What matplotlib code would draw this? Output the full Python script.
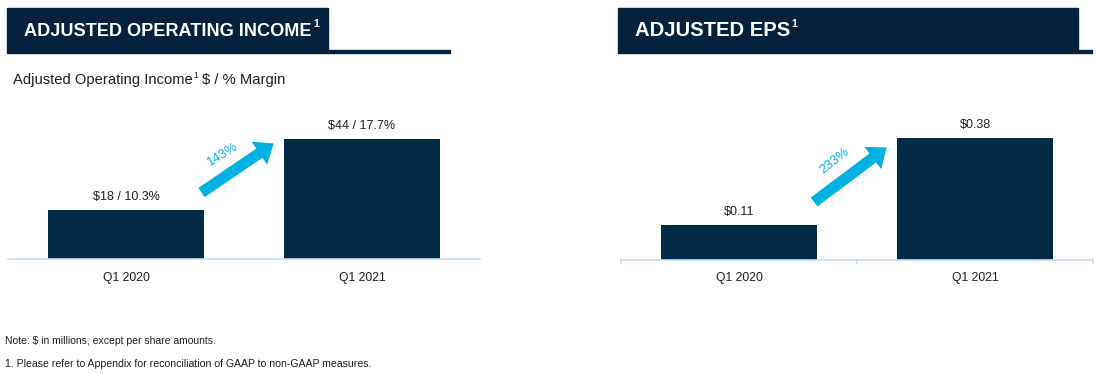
import matplotlib
matplotlib.use("Agg")
import matplotlib.pyplot as plt
from matplotlib.patches import FancyArrowPatch, Rectangle

periods = ["Q1 2020", "Q1 2021"]
op_income = [18, 44]
op_margin = [10.3, 17.7]
eps = [0.11, 0.38]
op_growth = "143%"
eps_growth = "233%"

NAVY = "#032b45"
HEAD = "#05223d"
CYAN = "#00b1e1"
AXIS = "#c9dcf3"
TXT = "#1f1f1f"

plt.rcParams["font.family"] = ["Liberation Sans", "DejaVu Sans"]

W, H = 1097, 373
fig = plt.figure(figsize=(W / 100, H / 100), dpi=100)
renderer = fig.canvas.get_renderer()


def px_axes(x0, x1, y_top, y_bot):
    return fig.add_axes([x0 / W, 1 - y_bot / H, (x1 - x0) / W, (y_bot - y_top) / H])


def fit_text(x, y, s, width_px, fs, **kw):
    # shrink the font so the string spans about width_px (original uses a narrow face)
    t = fig.text(x / W, 1 - y / H, s, fontsize=fs, **kw)
    w = t.get_window_extent(renderer).width
    t.set_fontsize(fs * width_px / w)
    return t


def header(x0, x1, x_line, text, width_px):
    fig.patches.append(Rectangle((x0 / W, 1 - 53 / H), (x1 - x0) / W, 45 / H,
                                 transform=fig.transFigure, color=HEAD, zorder=1))
    fig.patches.append(Rectangle((x1 / W, 1 - 53 / H), (x_line - x1) / W, 3.5 / H,
                                 transform=fig.transFigure, color=HEAD, zorder=1))
    t = fit_text(x0 + 17, 31, text, width_px, 16, color="white",
                 fontweight="bold", va="center", ha="left")
    bb = t.get_window_extent(renderer)
    fig.text(bb.x1 / W + 1.5 / W, 1 - 24 / H, "1", color="white", fontsize=7.5,
             fontweight="bold", va="center", ha="left")


header(7, 328, 450, "ADJUSTED OPERATING INCOME", 287)
header(618, 1078, 1092, "ADJUSTED EPS", 156)

t = fig.text(13 / W, 1 - 80 / H, "Adjusted Operating Income", fontsize=10.6,
             va="center", ha="left", color=TXT)
bb = t.get_window_extent(renderer)
fig.text(bb.x1 / W + 1 / W, 1 - 75 / H, "1", fontsize=6.2, va="center", ha="left", color=TXT)
fig.text(bb.x1 / W + 9 / W, 1 - 80 / H, "$ / % Margin", fontsize=10.6,
         va="center", ha="left", color=TXT)


def bar_panel(ax, vals, labels, top_frac, arrow, growth, rot, ticks_edge):
    x = range(len(vals))
    ax.bar(x, vals, width=0.665, color=NAVY, zorder=2)
    ax.set_xlim(-0.5, len(vals) - 0.5)
    ax.set_ylim(0, max(vals) * top_frac)
    for xi, v, lab in zip(x, vals, labels):
        ax.annotate(lab, (xi, v), xytext=(0, 5), textcoords="offset points",
                    ha="center", va="bottom", fontsize=9, color=TXT)
    for s in ["top", "right", "left"]:
        ax.spines[s].set_visible(False)
    ax.spines["bottom"].set_color(AXIS)
    ax.spines["bottom"].set_linewidth(1.2)
    ax.set_yticks([])
    ax.set_xticks(list(x))
    ax.set_xticklabels(periods, fontsize=8.7, color=TXT)
    ax.tick_params(axis="x", length=0, pad=9)
    if ticks_edge:
        for xe in [-0.5, 0.5, 1.5]:
            ax.plot([xe, xe], [0, -0.018], color=AXIS, lw=1.2, clip_on=False,
                    transform=ax.get_xaxis_transform())
    ax.add_patch(FancyArrowPatch(arrow[0], arrow[1], transform=ax.transAxes,
                                 arrowstyle="simple,head_width=2.0,head_length=1.25,tail_width=0.8",
                                 mutation_scale=10, color=CYAN, lw=0, zorder=3,
                                 shrinkA=0, shrinkB=0))
    ax.text(*growth[1], growth[0], rotation=rot, color=CYAN, fontsize=9.5,
            ha="center", va="center", transform=ax.transAxes)


ax1 = px_axes(8, 480, 100, 259)
bar_panel(ax1, op_income, [f"${v} / {m}%" for v, m in zip(op_income, op_margin)],
          1.325, ((0.41, 0.418), (0.563, 0.727)), (op_growth, (0.456, 0.66)), 32, False)

ax2 = px_axes(621, 1093, 100, 260)
bar_panel(ax2, eps, [f"${v:.2f}" for v in eps],
          1.314, ((0.409, 0.3625), (0.563, 0.703)), (eps_growth, (0.453, 0.62)), 39, True)

fig.text(5 / W, 1 - 341 / H, "Note: $ in millions, except per share amounts.",
         fontsize=7.5, va="center", ha="left", color=TXT)
fig.text(5 / W, 1 - 364 / H, "1. Please refer to Appendix for reconciliation of GAAP to non-GAAP measures.",
         fontsize=7.6, va="center", ha="left", color=TXT)

fig.savefig("out.png", dpi=100)
